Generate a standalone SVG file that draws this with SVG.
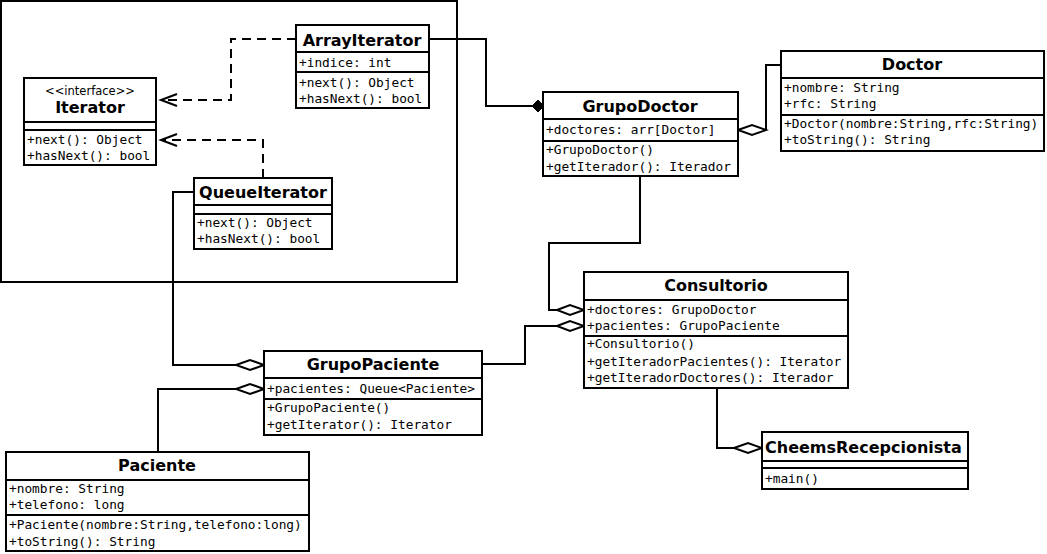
<svg xmlns="http://www.w3.org/2000/svg" width="1047" height="554" viewBox="0 0 1047 554">
<style>
.box{fill:#fff;stroke:#000;stroke-width:2}
.div{stroke:#000;stroke-width:2;fill:none}
.t{font-family:"DejaVu Sans Bold","DejaVu Sans",sans-serif;font-weight:bold;font-size:16px;text-anchor:middle;fill:#000}
.m{font-family:"DejaVu Sans Mono","Liberation Mono",monospace;font-size:12.8px;fill:#000}
.st{font-family:"DejaVu Sans",sans-serif;font-size:11.5px;text-anchor:middle;fill:#000}
.c{fill:none;stroke:#000;stroke-width:2}
.d{fill:none;stroke:#000;stroke-width:2;stroke-dasharray:9 6}
.hd{fill:#fff;stroke:#000;stroke-width:2}
.fd{fill:#000;stroke:#000;stroke-width:1}
</style>
<rect x="0" y="0" width="1047" height="554" fill="#fff"/>
<rect x="1" y="1" width="456" height="281" fill="none" stroke="#000" stroke-width="2"/>

<g id="connectors">
  <path class="d" d="M296,39 H231 V100 H161"/>
  <path class="c" d="M177,94 L161,100 L177,106"/>
  <path class="d" d="M263,178 V140 H161"/>
  <path class="c" d="M177,134 L161,140 L177,146"/>
  <path class="c" d="M429,39 H486 V106 H532"/>
  <path class="fd" d="M532,106 L538,100 L544,106 L538,112 Z"/>
  <path class="c" d="M781,65 H766 V130"/>
  <path class="hd" d="M738,130 L752,125 L766,130 L752,135 Z"/>
  <path class="c" d="M640,176 V243 H549 V310 H557"/>
  <path class="hd" d="M557,310 L570,305 L584,310 L570,315 Z"/>
  <path class="c" d="M482,364 H525 V326 H557"/>
  <path class="hd" d="M557,326 L570,321 L584,326 L570,331 Z"/>
  <path class="c" d="M194,192 H173 V365 H236"/>
  <path class="hd" d="M236,365 L250,360 L264,365 L250,370 Z"/>
  <path class="c" d="M158,452 V389 H236"/>
  <path class="hd" d="M236,389 L250,384 L264,389 L250,394 Z"/>
  <path class="c" d="M717,388 V448 H734"/>
  <path class="hd" d="M734,448 L748,443 L762,448 L748,453 Z"/>
</g>

<g id="Iterator">
  <rect class="box" x="24" y="78" width="132" height="87"/>
  <path class="div" d="M24,122 H156 M24,130 H156"/>
  <text class="st" x="90" y="95">&lt;&lt;interface&gt;&gt;</text>
  <text class="t" x="90" y="113">Iterator</text>
  <text class="m" x="27" y="144">+next(): Object</text>
  <text class="m" x="27" y="160">+hasNext(): bool</text>
</g>

<g id="ArrayIterator">
  <rect class="box" x="296" y="25" width="133" height="83"/>
  <path class="div" d="M296,52 H429 M296,72 H429"/>
  <text class="t" x="362" y="46">ArrayIterator</text>
  <text class="m" x="299" y="67">+indice: int</text>
  <text class="m" x="299" y="87">+next(): Object</text>
  <text class="m" x="299" y="103">+hasNext(): bool</text>
</g>

<g id="QueueIterator">
  <rect class="box" x="194" y="178" width="138" height="71"/>
  <path class="div" d="M194,205 H332 M194,214 H332"/>
  <text class="t" x="263" y="198">QueueIterator</text>
  <text class="m" x="197" y="227">+next(): Object</text>
  <text class="m" x="197" y="243">+hasNext(): bool</text>
</g>

<g id="GrupoDoctor">
  <rect class="box" x="543" y="92" width="195" height="84"/>
  <path class="div" d="M543,119 H738 M543,141 H738"/>
  <text class="t" x="640" y="112">GrupoDoctor</text>
  <text class="m" x="546" y="134">+doctores: arr[Doctor]</text>
  <text class="m" x="546" y="154">+GrupoDoctor()</text>
  <text class="m" x="546" y="171">+getIterador(): Iterador</text>
</g>

<g id="Doctor">
  <rect class="box" x="781" y="51" width="263" height="100"/>
  <path class="div" d="M781,78 H1044 M781,115 H1044"/>
  <text class="t" x="912" y="70">Doctor</text>
  <text class="m" x="784" y="92">+nombre: String</text>
  <text class="m" x="784" y="108">+rfc: String</text>
  <text class="m" x="784" y="128">+Doctor(nombre:String,rfc:String)</text>
  <text class="m" x="784" y="144">+toString(): String</text>
</g>

<g id="Consultorio">
  <rect class="box" x="584" y="272" width="264" height="116"/>
  <path class="div" d="M584,300 H848 M584,336 H848"/>
  <text class="t" x="716" y="291">Consultorio</text>
  <text class="m" x="587" y="314">+doctores: GrupoDoctor</text>
  <text class="m" x="587" y="330">+pacientes: GrupoPaciente</text>
  <text class="m" x="587" y="348">+Consultorio()</text>
  <text class="m" x="587" y="366">+getIteradorPacientes(): Iterator</text>
  <text class="m" x="587" y="382">+getIteradorDoctores(): Iterador</text>
</g>

<g id="GrupoPaciente">
  <rect class="box" x="264" y="351" width="218" height="84"/>
  <path class="div" d="M264,378 H482 M264,399 H482"/>
  <text class="t" x="373" y="370">GrupoPaciente</text>
  <text class="m" x="267" y="393">+pacientes: Queue&lt;Paciente&gt;</text>
  <text class="m" x="267" y="412">+GrupoPaciente()</text>
  <text class="m" x="267" y="429">+getIterator(): Iterator</text>
</g>

<g id="Paciente">
  <rect class="box" x="6" y="452" width="303" height="99"/>
  <path class="div" d="M6,480 H309 M6,515 H309"/>
  <text class="t" x="157" y="471">Paciente</text>
  <text class="m" x="9" y="493">+nombre: String</text>
  <text class="m" x="9" y="509">+telefono: long</text>
  <text class="m" x="9" y="529">+Paciente(nombre:String,telefono:long)</text>
  <text class="m" x="9" y="546">+toString(): String</text>
</g>

<g id="CheemsRecepcionista">
  <rect class="box" x="762" y="432" width="206" height="57"/>
  <path class="div" d="M762,461 H968 M762,468 H968"/>
  <text class="t" x="765" y="453" style="text-anchor:start">CheemsRecepcionista</text>
  <text class="m" x="765" y="483">+main()</text>
</g>
</svg>
